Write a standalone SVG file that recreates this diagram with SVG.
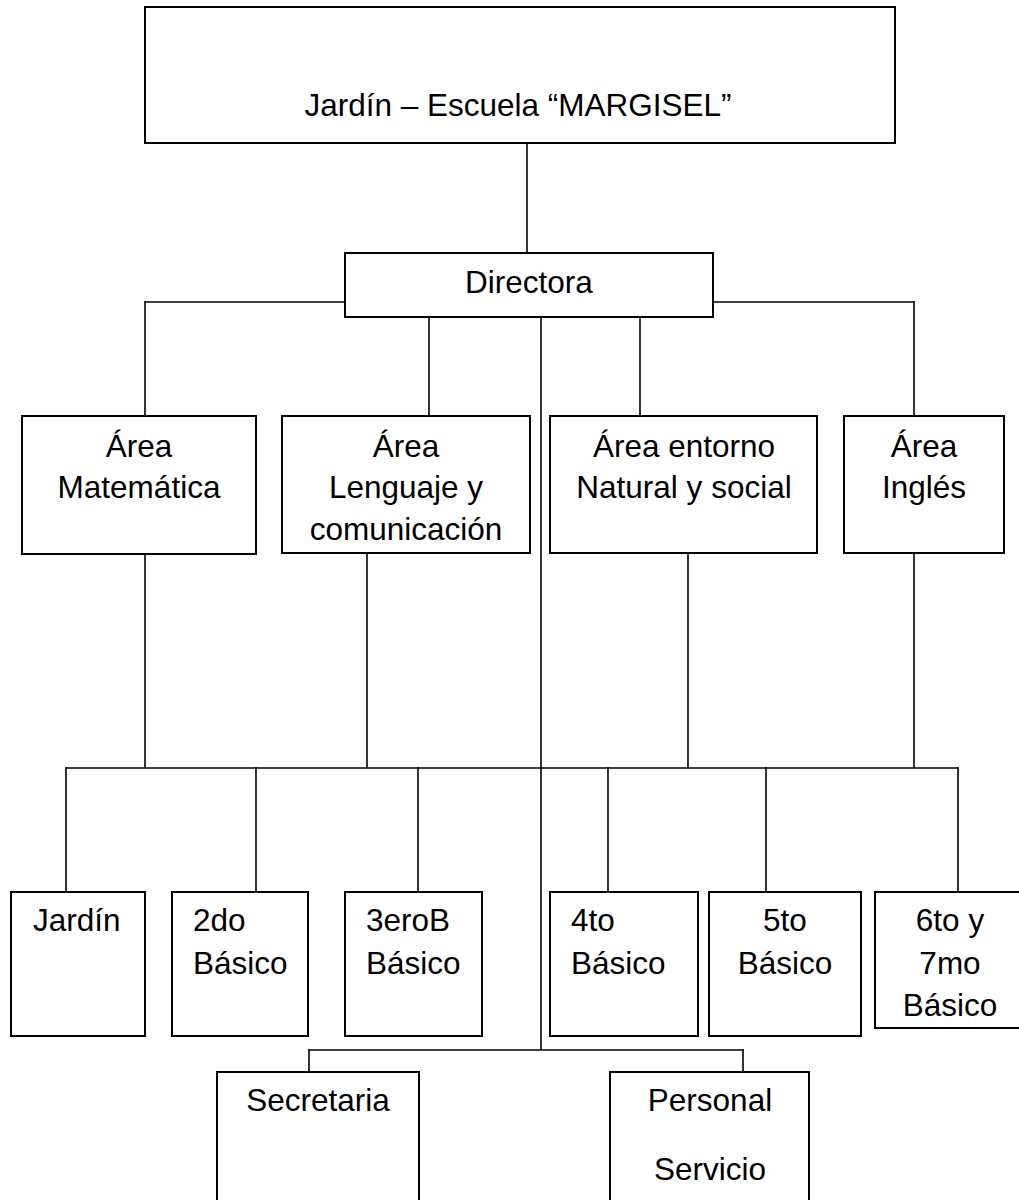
<svg xmlns="http://www.w3.org/2000/svg" width="1019" height="1200" viewBox="0 0 1019 1200">
<style>
  .box { fill: #ffffff; stroke: #000000; stroke-width: 2; }
  .conn line { stroke: #000000; stroke-width: 1.6; }
  text { font-family: "Liberation Sans", Arial, sans-serif; font-size: 31.5px; fill: #000000; }
  .c { text-anchor: middle; }
</style>
<rect x="0" y="0" width="1019" height="1200" fill="#ffffff"/>
<g id="connectors" class="conn">
  <line x1="527" y1="143" x2="527" y2="253"/>
  <line x1="145" y1="302" x2="345" y2="302"/>
  <line x1="713" y1="302" x2="914" y2="302"/>
  <line x1="145" y1="301" x2="145" y2="416"/>
  <line x1="914" y1="301" x2="914" y2="416"/>
  <line x1="429" y1="317" x2="429" y2="416"/>
  <line x1="640" y1="317" x2="640" y2="416"/>
  <line x1="541" y1="317" x2="541" y2="1050"/>
  <line x1="145" y1="554" x2="145" y2="768"/>
  <line x1="367" y1="553" x2="367" y2="768"/>
  <line x1="688" y1="553" x2="688" y2="768"/>
  <line x1="914" y1="553" x2="914" y2="768"/>
  <line x1="66" y1="768" x2="958" y2="768"/>
  <line x1="66" y1="767" x2="66" y2="892"/>
  <line x1="256" y1="767" x2="256" y2="892"/>
  <line x1="418" y1="767" x2="418" y2="892"/>
  <line x1="608" y1="767" x2="608" y2="892"/>
  <line x1="766" y1="767" x2="766" y2="892"/>
  <line x1="958" y1="767" x2="958" y2="892"/>
  <line x1="309" y1="1050" x2="743" y2="1050"/>
  <line x1="309" y1="1049" x2="309" y2="1072"/>
  <line x1="743" y1="1049" x2="743" y2="1072"/>
</g>
<g id="title">
  <rect class="box" x="145" y="7" width="750" height="136"/>
  <text class="c" x="518" y="116">Jardín – Escuela “MARGISEL”</text>
</g>
<g id="directora">
  <rect class="box" x="345" y="253" width="368" height="64"/>
  <text class="c" x="529" y="293">Directora</text>
</g>
<g id="area-matematica">
  <rect class="box" x="22" y="416" width="234" height="138"/>
  <text class="c" x="139" y="457">Área</text>
  <text class="c" x="139" y="498">Matemática</text>
</g>
<g id="area-lenguaje">
  <rect class="box" x="282" y="416" width="248" height="137"/>
  <text class="c" x="406" y="457">Área</text>
  <text class="c" x="406" y="498">Lenguaje y</text>
  <text class="c" x="406" y="540">comunicación</text>
</g>
<g id="area-entorno">
  <rect class="box" x="550" y="416" width="267" height="137"/>
  <text class="c" x="684" y="457">Área entorno</text>
  <text class="c" x="684" y="498">Natural y social</text>
</g>
<g id="area-ingles">
  <rect class="box" x="844" y="416" width="160" height="137"/>
  <text class="c" x="924" y="457">Área</text>
  <text class="c" x="924" y="498">Inglés</text>
</g>
<g id="jardin">
  <rect class="box" x="11" y="892" width="134" height="144"/>
  <text x="33" y="931">Jardín</text>
</g>
<g id="segundo">
  <rect class="box" x="172" y="892" width="136" height="144"/>
  <text x="193" y="931">2do</text>
  <text x="193" y="974">Básico</text>
</g>
<g id="tercero">
  <rect class="box" x="345" y="892" width="137" height="144"/>
  <text x="366" y="931">3eroB</text>
  <text x="366" y="974">Básico</text>
</g>
<g id="cuarto">
  <rect class="box" x="550" y="892" width="148" height="144"/>
  <text x="571" y="931">4to</text>
  <text x="571" y="974">Básico</text>
</g>
<g id="quinto">
  <rect class="box" x="709" y="892" width="152" height="144"/>
  <text class="c" x="785" y="931">5to</text>
  <text class="c" x="785" y="974">Básico</text>
</g>
<g id="sexto-septimo">
  <rect class="box" x="875" y="892" width="150" height="136"/>
  <text class="c" x="950" y="931">6to y</text>
  <text class="c" x="950" y="974">7mo</text>
  <text class="c" x="950" y="1016">Básico</text>
</g>
<g id="secretaria">
  <rect class="box" x="217" y="1072" width="202" height="140"/>
  <text class="c" x="318" y="1111">Secretaria</text>
</g>
<g id="personal-servicio">
  <rect class="box" x="610" y="1072" width="199" height="140"/>
  <text class="c" x="710" y="1111">Personal</text>
  <text class="c" x="710" y="1180">Servicio</text>
</g>
</svg>
